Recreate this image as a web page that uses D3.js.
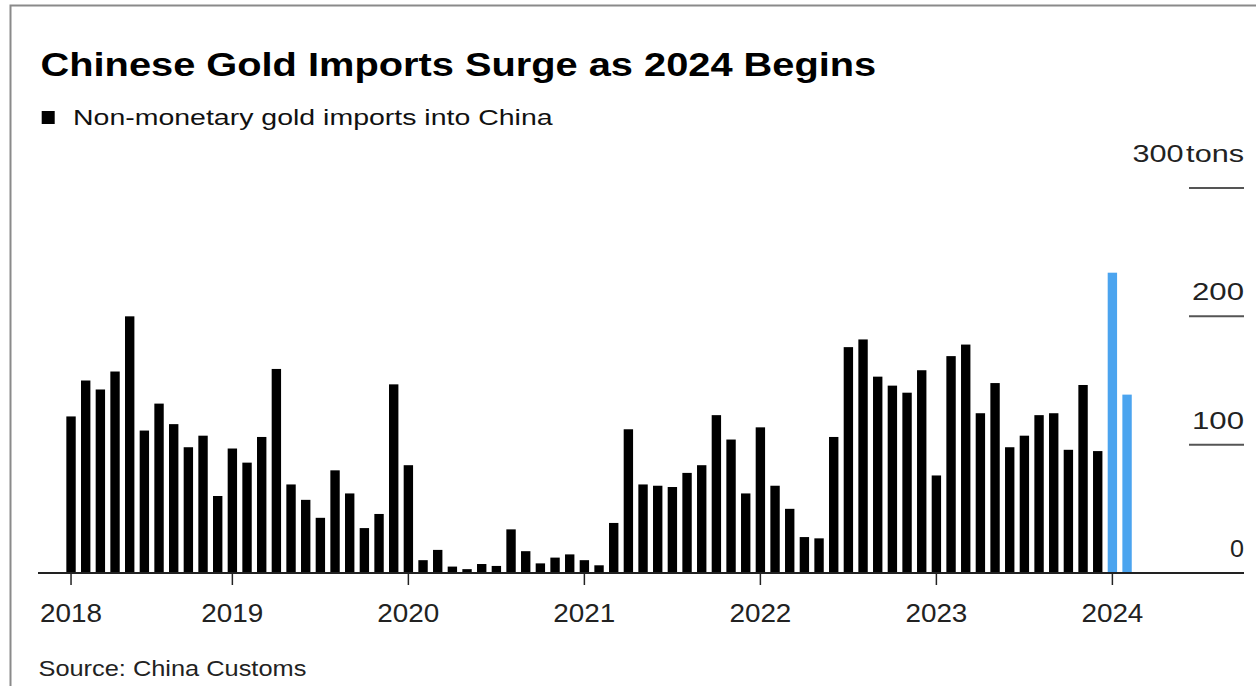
<!DOCTYPE html>
<head>
    <meta http-equiv="Content-Type" content="text/html; charset=utf-8">
    <title>Chinese Gold Imports Surge as 2024 Begins</title>
    <script src="https://d3js.org/d3.v7.min.js"></script>
</head>
<style>
body { margin: 0; background: #fff; }
text { font-family: "Liberation Sans", Arial, sans-serif; fill: #111; }
.title { font-weight: bold; font-size: 34px; fill: #000; }
.sub { font-size: 22px; }
.tick-label { font-size: 24px; fill: #222; }
.year-label { font-size: 25px; fill: #222; }
.source { font-size: 22px; fill: #222; }
</style>
<body>
<svg width="1256" height="686"></svg>
<script>

// months shown, Feb 2018 .. Feb 2024
var months = d3.timeMonths(new Date(2018, 1, 1), new Date(2024, 2, 1));

// non-monetary gold imports, tons
var imports = [
  122, 150, 143, 157, 200, 111, 132, 116, 98, 107, 60,        // 2018 Feb-Dec
  97, 86, 106, 159, 69, 57, 43, 80, 62, 35, 46, 147,         // 2019
  84, 10, 18, 5, 3, 7, 5.5, 34, 17, 7.5, 12, 14.5,           // 2020
  10, 6, 39, 112, 69, 68, 67, 78, 84, 123, 104, 62,          // 2021
  113.5, 68, 50, 28, 27, 106, 176, 182, 153, 146, 140.5, 158, // 2022
  76, 169, 178, 124.5, 148, 98, 107, 123, 124.5, 96, 146.5, 95, // 2023
  234, 139                                                    // 2024 Jan-Feb
];
var highlightFrom = new Date(2024, 0, 1);

var yTicks = [0, 100, 200, 300];
var yUnit = "tons";
var years = ["2018", "2019", "2020", "2021", "2022", "2023", "2024"];

var title = "Chinese Gold Imports Surge as 2024 Begins";
var legendLabel = "Non-monetary gold imports into China";
var source = "Source: China Customs";

var svg = d3.select("svg");
var fmt = d3.timeFormat("%Y-%m");

// the source picture is wider than the usual font, so stretch text to its measured width
function fit(sel, w) {
    sel.each(function() {
        var t = d3.select(this),
            k = w / this.getComputedTextLength(),
            ax = +t.attr("x");
        t.attr("transform", "translate(" + ax + ",0) scale(" + k + ",1) translate(" + (-ax) + ",0)");
    });
}

svg.append("rect")
    .attr("x", 10.5).attr("y", 5.5)
    .attr("width", 1300).attr("height", 800)
    .attr("fill", "none").attr("stroke", "#8a8a8a").attr("stroke-width", 2);

var x = d3.scaleBand()
    .domain(months.map(fmt))
    .range([63.7, 63.7 + months.length * 14.667])
    .paddingInner(0.36)
    .paddingOuter(0.18);

var y = d3.scaleLinear().domain([0, 300]).range([573, 188]);

// headline + legend
svg.append("text").attr("class", "title")
    .attr("x", 40.5).attr("y", 76)
    .text(title)
    .call(fit, 836);

svg.append("rect").attr("x", 41.7).attr("y", 111)
    .attr("width", 13).attr("height", 13).attr("fill", "#000");
svg.append("text").attr("class", "sub")
    .attr("x", 73).attr("y", 125)
    .text(legendLabel)
    .call(fit, 480);

// bars
svg.selectAll(".bar")
    .data(imports)
  .enter().append("rect")
    .attr("class", "bar")
    .attr("x", function(d, i) { return x(fmt(months[i])); })
    .attr("width", x.bandwidth())
    .attr("y", function(d) { return y(d); })
    .attr("height", function(d) { return y(0) - y(d); })
    .attr("fill", function(d, i) { return months[i] >= highlightFrom ? "#4ba4ef" : "#000"; });

// y axis on the right: short stubs with labels above
var yLab = {0: 14, 100: 52, 200: 52};
yTicks.forEach(function(t) {
    if (t > 0) {
        svg.append("line")
            .attr("x1", 1189).attr("x2", 1244)
            .attr("y1", y(t)).attr("y2", y(t))
            .attr("stroke", "#555").attr("stroke-width", 2);
    }
    var lab = svg.append("text").attr("class", "tick-label")
        .attr("text-anchor", "end")
        .attr("x", 1244)
        .attr("y", t == 300 ? y(t) - 26 : y(t) - 16);
    if (t == 300) {
        lab.text(t);
        lab.append("tspan").attr("dx", 2).text(yUnit);
        lab.call(fit, 109);
    } else {
        lab.text(t).call(fit, yLab[t]);
    }
});

// baseline + year ticks
svg.append("line")
    .attr("x1", 38).attr("x2", 1244)
    .attr("y1", y(0)).attr("y2", y(0))
    .attr("stroke", "#222").attr("stroke-width", 2);

var yearTicks = years.map(function(yr, i) {
    var m = i == 0 ? months[0] : new Date(+yr, 0, 1);
    return {label: yr, pos: x(fmt(m)) + x.bandwidth() / 2};
});

svg.selectAll(".ytick")
    .data(yearTicks)
  .enter().append("line")
    .attr("x1", function(d) { return d.pos; })
    .attr("x2", function(d) { return d.pos; })
    .attr("y1", y(0)).attr("y2", y(0) + 12)
    .attr("stroke", "#222").attr("stroke-width", 1.5);

svg.selectAll(".ylabel")
    .data(yearTicks)
  .enter().append("text")
    .attr("class", "year-label")
    .attr("text-anchor", "middle")
    .attr("x", function(d) { return d.pos; })
    .attr("y", 622)
    .text(function(d) { return d.label; })
    .call(fit, 62);

svg.append("text").attr("class", "source")
    .attr("x", 38.5).attr("y", 676)
    .text(source)
    .call(fit, 268);

</script>
</body>
